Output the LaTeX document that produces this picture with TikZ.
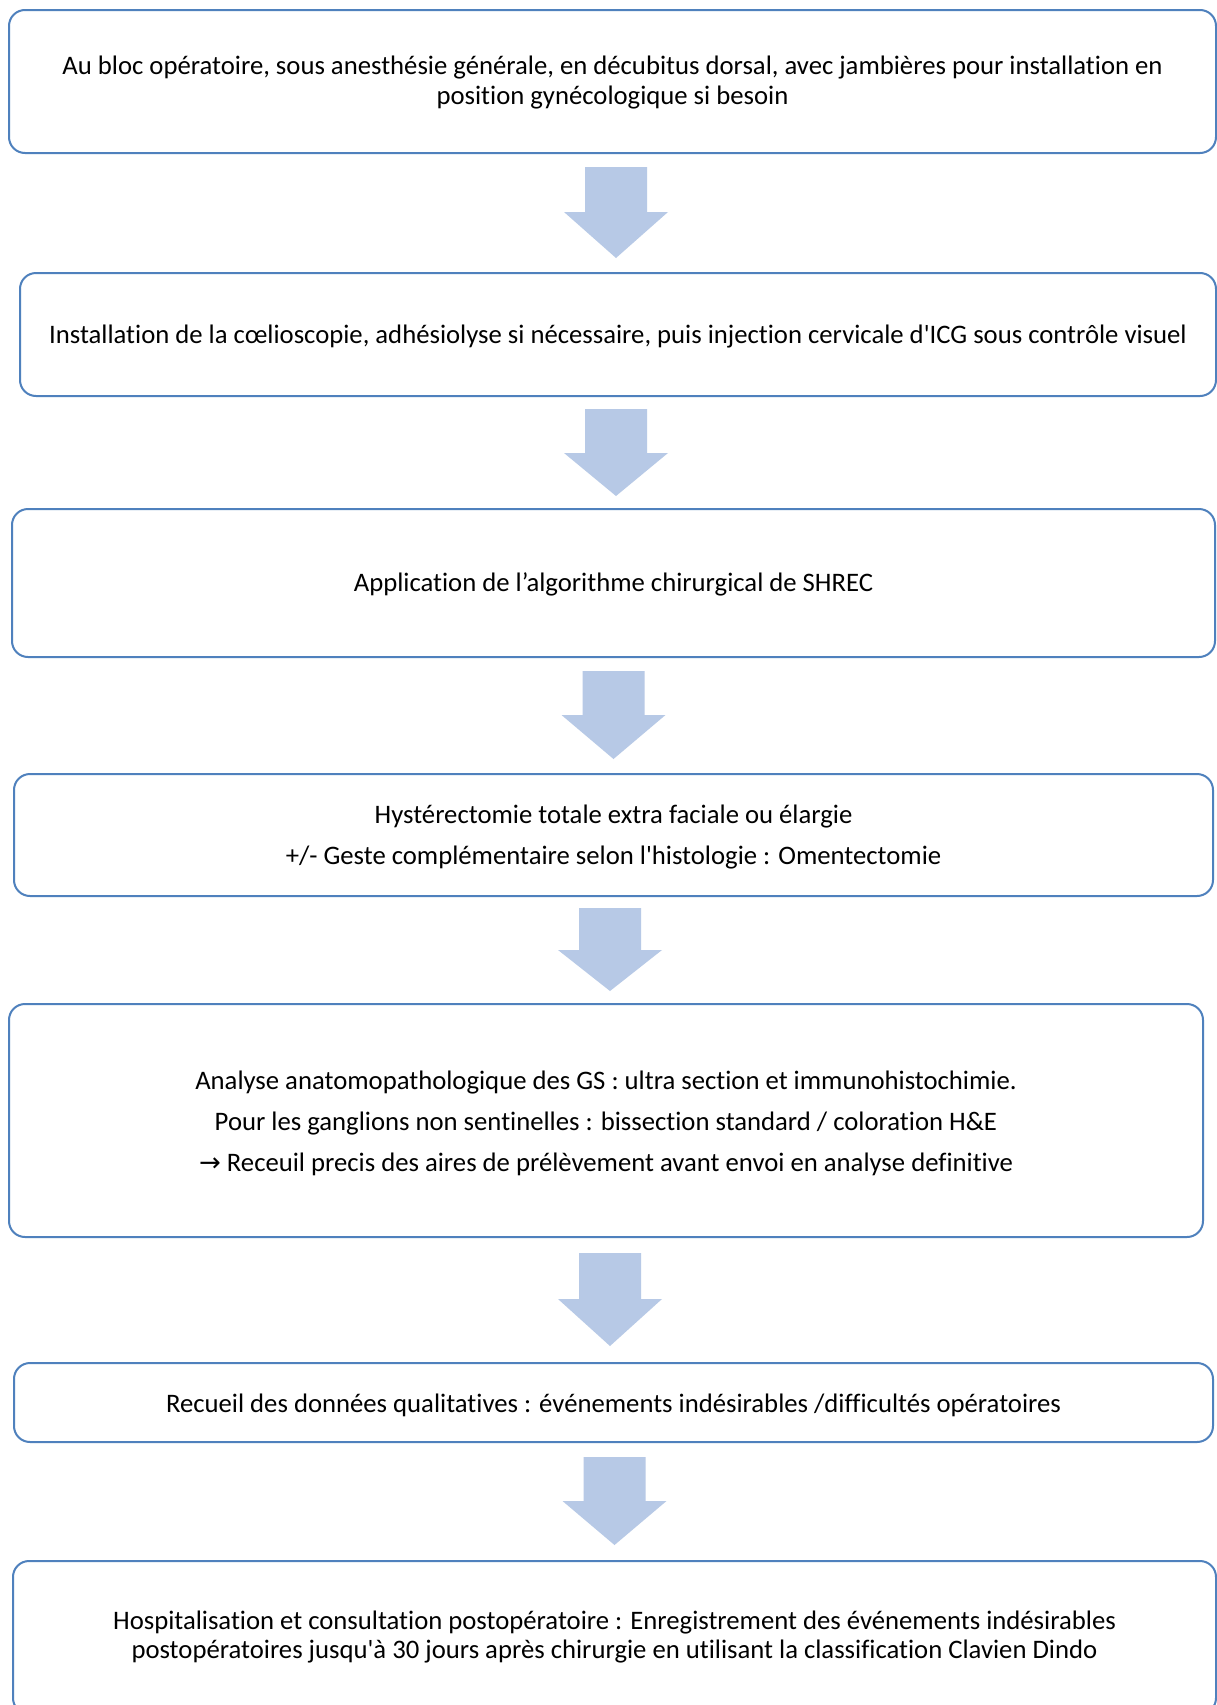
\documentclass[tikz,border=0pt]{standalone}
\usepackage{fontspec}
\setmainfont{Carlito}[Ligatures={TeXOff,NoCommon}]
\newfontfamily\arrowfont{DejaVu Sans}
\definecolor{boxblue}{RGB}{79,129,189}
\definecolor{arrowblue}{RGB}{183,201,230}
\tikzset{
  stepbox/.style={draw=boxblue, line width=2pt, rounded corners=16pt, inner sep=0pt, outer sep=0pt},
  txt/.style={align=center, font=\fontsize{26.7}{30}\selectfont, inner sep=0pt, text=black},
  blockarrow/.style={fill=arrowblue, draw=none}
}
\newcommand\flowarrow[4]{%
  \fill[blockarrow] (#1-31,#2) -- (#1+31,#2) -- (#1+31,#3) -- (#1+52,#3) -- (#1,#4) -- (#1-52,#3) -- (#1-31,#3) -- cycle;}
\begin{document}
\begin{tikzpicture}[x=1pt,y=-1pt]
\useasboundingbox (0,0) rectangle (1217,1705);
\fill[white] (0,0) rectangle (1217,1705);

% boxes
\node[stepbox, minimum width=1207pt, minimum height=143pt] (b1) at (612.5,81.5) {};
\node[stepbox, minimum width=1196pt, minimum height=123pt] (b2) at (618,334.5) {};
\node[stepbox, minimum width=1203pt, minimum height=148pt] (b3) at (613.5,583) {};
\node[stepbox, minimum width=1199pt, minimum height=122pt] (b4) at (613.5,835) {};
\node[stepbox, minimum width=1194pt, minimum height=233pt] (b5) at (606,1120.5) {};
\node[stepbox, minimum width=1199pt, minimum height=79pt] (b6) at (613.5,1402.5) {};
\node[stepbox, minimum width=1203pt, minimum height=153pt] (b7) at (614.5,1637.5) {};

% texts
\node[txt] (t1) at (612.5,83) {Au bloc opératoire, sous anesthésie générale, en décubitus dorsal, avec jambières pour installation en\\position gynécologique si besoin};
\node[txt] (t2) at (618,337) {Installation de la cœlioscopie, adhésiolyse si nécessaire, puis injection cervicale d'ICG sous contrôle visuel};
\node[txt] (t3) at (613.5,584) {Application de l’algorithme chirurgical de SHREC};
\node[txt] (t4) at (613.5,837) {Hystérectomie totale extra faciale ou élargie\\[11pt]+/- Geste complémentaire selon l'histologie : Omentectomie};
\node[txt] (t5) at (606,1123.5) {Analyse anatomopathologique des GS : ultra section et immunohistochimie.\\[11pt]Pour les ganglions non sentinelles : bissection standard / coloration H\&E\\[11pt]{\arrowfont\fontsize{26}{30}\selectfont →} Receuil precis des aires de prélèvement avant envoi en analyse definitive};
\node[txt] (t6) at (613.5,1405) {Recueil des données qualitatives : événements indésirables /difficultés opératoires};
\node[txt] (t7) at (614.5,1637.5) {Hospitalisation et consultation postopératoire : Enregistrement des événements indésirables\\[-1pt]postopératoires jusqu'à 30 jours après chirurgie en utilisant la classification Clavien Dindo};

% block arrows
\flowarrow{616}{167}{212}{258}
\flowarrow{616}{409}{453}{496}
\flowarrow{613.5}{671}{715}{759}
\flowarrow{610}{908}{950}{991}
\flowarrow{610}{1253}{1299}{1346}
\flowarrow{614.5}{1457}{1501}{1545}
\end{tikzpicture}
\end{document}
